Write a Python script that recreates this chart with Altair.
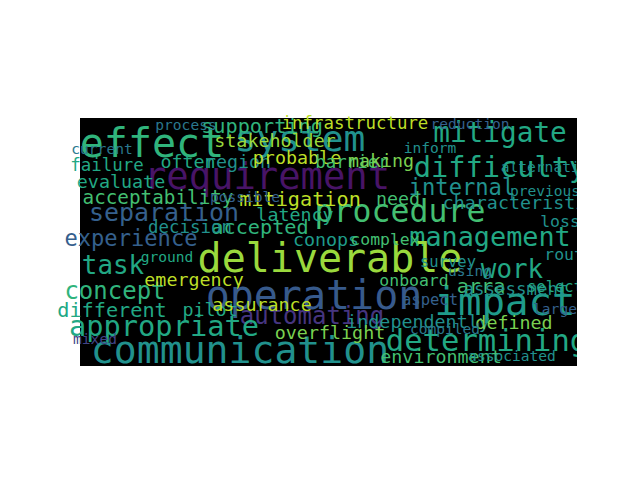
import altair as alt
import pandas as pd

words = ["effect","system","mitigate","requirement","difficulty","supporting","infrastructure","stakeholder",
 "internal","separation","procedure","characteristic","acceptability","evaluate","failure","often","region",
 "probable","barrier","making","mitigation","latency","accepted","experience","decision","conops","management",
 "task","deliverable","work","arra","concept","emergency","operation","impact","automating","appropriate","pilot",
 "assurance","independently","defined","determining","communication","environment","different","overflight",
 "onboard","assessment","complex","need","select","route","loss","alternative","previous","current","process",
 "inform","associated","ground","possible","survey","using","aspect","large","mixed","compiled","reduction"]
xs = [152,300,500,267,500,262,355,275,462,164,400,520,158,121,107,188,238,297,352,381,300,295,260,131,190,326,490,
 113,330,512,481,115,194,314,505,312,164,210,262,418,514,487,240,441,112,330,414,516,385,398,555,569,560,549,545,
 102,186,430,512,167,245,448,470,430,555,95,445,470]
ys = [145,140,134,178,168,127,124,141,188,214,213,203,198,182,166,162,162,158,163,161,200,215,228,239,228,240,238,
 266,260,270,287,292,280,297,303,317,327,310,305,322,323,342,352,357,311,333,281,290,240,199,287,255,222,168,192,
 150,126,149,357,258,198,262,272,300,310,340,330,125]
sizes = [34,30,21,31,22,13,10,11,15,18,25,11,12,11,10,11,11,11,10,11,13,11,13,15,10,11,20,
 19,34,19,13,17,11,34,33,17,22,11,11,11,11,24,32,11,13,11,9,10,9,11,8,9,9,7,7,
 7,7,7,7,7,7,8,7,8,7,7,7,7]
shade = [0.65,0.5,0.6,0.05,0.6,0.65,0.9,0.85,0.5,0.3,0.7,0.5,0.7,0.6,0.6,0.6,0.5,0.9,0.7,0.8,0.9,0.6,0.65,0.3,0.5,0.55,0.6,
 0.6,0.85,0.6,0.7,0.65,0.9,0.28,0.55,0.15,0.6,0.6,0.9,0.5,0.8,0.6,0.5,0.7,0.6,0.8,0.7,0.5,0.7,0.7,0.6,0.5,0.5,0.5,0.5,
 0.4,0.4,0.5,0.5,0.6,0.3,0.5,0.4,0.3,0.3,0.2,0.4,0.3]
angles = [0]*len(words)
angles[words.index("route")] = 270
angles[words.index("select")] = 270

df = pd.DataFrame({"word":words,"x":xs,"y":ys,"size":sizes,"shade":shade,"angle":angles})

bg = alt.Chart(df).mark_rect(color="black").encode(
    x=alt.value(0), x2=alt.value(497), y=alt.value(0), y2=alt.value(248))

txt = alt.Chart(df).mark_text(font="DejaVu Sans Mono", baseline="middle", align="center").encode(
    x=alt.X("x:Q", scale=alt.Scale(domain=[80,577]), axis=None),
    y=alt.Y("y:Q", scale=alt.Scale(domain=[366,118]), axis=None),
    text="word:N",
    size=alt.Size("size:Q", scale=alt.Scale(type="identity"), legend=None),
    angle=alt.Angle("angle:Q", scale=alt.Scale(type="identity"), legend=None),
    color=alt.Color("shade:Q", scale=alt.Scale(scheme="viridis", domain=[0,1]), legend=None),
)

chart = alt.layer(bg, txt).properties(width=497, height=248, autosize="none",
             padding={"left":72,"top":110,"right":0,"bottom":0}
).configure_view(stroke=None).configure(background="white")

chart.save("out.html", embed_options={"renderer": "svg", "actions": False})
